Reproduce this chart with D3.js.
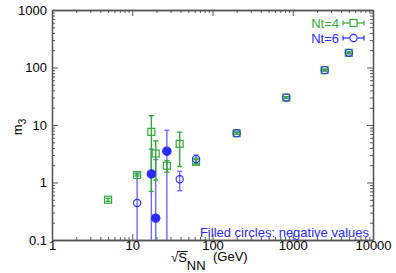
<!DOCTYPE html>
<html>
<head>
<meta charset="utf-8">
<script src="https://cdn.jsdelivr.net/npm/d3@7"></script>
<style>
  body { margin: 0; background: #fff; }
  svg { display: block; font-family: "Liberation Sans", Arial, sans-serif; }
</style>
</head>
<body>
<div id="vis"></div>
<script>
// Nt=4 : green squares
const nt4Energy = [5.0, 11.5, 17.3, 19.6, 27, 39, 62.4, 200, 830, 2500, 5000];
const nt4Value = [0.5, 1.35, 7.6, 3.2, 1.96, 4.7, 2.3, 7.2, 30, 90, 180];
const nt4Error = [0.03, 0.05, 6.9, 2.1, 0.45, 2.8, 0.2, 0.3, 1, 3, 6];

// Nt=6 : blue circles (filled = negative value, plotted as |m3|)
const nt6Energy = [11.5, 17.3, 19.6, 27, 39, 62.4, 200, 830, 2500, 5000];
const nt6Value = [0.44, 1.41, 0.24, 3.5, 1.14, 2.55, 7.2, 30, 90, 180];
const nt6Error = [1.02, 2.4, 2.26, 4.6, 0.42, 0.45, 0.3, 1, 3, 6];
const nt6Negative = [false, true, true, true, false, false, false, false, false, false];

const xTicks = [1, 10, 100, 1000, 10000];
const yTicks = [0.1, 1, 10, 100, 1000];

////////////////////////////////////////
/////////////// Options ////////////////
////////////////////////////////////////

const options = {
  width: 396,
  height: 273,
  margin: { top: 10, right: 23, bottom: 33, left: 52 },
  green: "#33aa33",
  blue: "#2a2aff",
  blueBar: "#6b6bff",
  axis: "#555",
  fontSize: 13,
};

const width = options.width - options.margin.left - options.margin.right;
const height = options.height - options.margin.top - options.margin.bottom;

const nt4 = nt4Energy.map((e, i) => ({ x: e, y: nt4Value[i], err: nt4Error[i] }));
const nt6 = nt6Energy.map((e, i) => ({
  x: e,
  y: nt6Value[i],
  err: nt6Error[i],
  neg: nt6Negative[i],
}));

////////////////////////////////////////
////////////// Scales //////////////////
////////////////////////////////////////

const xScale = d3.scaleLog().domain([1, 10000]).range([0, width]);
const yScale = d3.scaleLog().domain([0.1, 1000]).range([height, 0]);

// minor ticks 2..9 in every decade
function minors(domain) {
  const out = [];
  for (let d = domain[0]; d < domain[1]; d *= 10) {
    for (let m = 2; m <= 9; m++) out.push(+(d * m).toPrecision(3));
  }
  return out;
}

////////////////////////////////////////
////////////// DOM Setup ///////////////
////////////////////////////////////////

const svg = d3
  .select("#vis")
  .append("svg")
  .attr("width", options.width)
  .attr("height", options.height);

const g = svg
  .append("g")
  .attr("transform", `translate(${options.margin.left},${options.margin.top})`);

g.append("clipPath")
  .attr("id", "plot-clip")
  .append("rect")
  .attr("width", width)
  .attr("height", height);

function styleAxis(sel) {
  sel.attr("font-family", null).attr("font-size", options.fontSize);
  sel.select(".domain").attr("stroke", options.axis).attr("stroke-width", 1.3);
  sel.selectAll(".tick line").attr("stroke", options.axis);
  sel.selectAll(".tick text").attr("fill", "#000");
}

// bottom
g.append("g")
  .attr("transform", `translate(0,${height})`)
  .call(d3.axisBottom(xScale).tickValues(minors([1, 10000])).tickSize(-3).tickSizeOuter(0).tickFormat(""))
  .call(styleAxis);
g.append("g")
  .attr("transform", `translate(0,${height})`)
  .call(d3.axisBottom(xScale).tickValues(xTicks).tickSize(-6).tickSizeOuter(0).tickPadding(1).tickFormat(d3.format("d")))
  .call(styleAxis);
// top
g.append("g")
  .call(d3.axisTop(xScale).tickValues(minors([1, 10000])).tickSize(-3).tickSizeOuter(0).tickFormat(""))
  .call(styleAxis);
g.append("g")
  .call(d3.axisTop(xScale).tickValues(xTicks).tickSize(-6).tickSizeOuter(0).tickFormat(""))
  .call(styleAxis);
// left
g.append("g")
  .call(d3.axisLeft(yScale).tickValues(minors([0.1, 1000])).tickSize(-3).tickSizeOuter(0).tickFormat(""))
  .call(styleAxis);
g.append("g")
  .call(d3.axisLeft(yScale).tickValues(yTicks).tickSize(-6).tickSizeOuter(0).tickPadding(5).tickFormat((d) => String(d)))
  .call(styleAxis);
// right
g.append("g")
  .attr("transform", `translate(${width},0)`)
  .call(d3.axisRight(yScale).tickValues(minors([0.1, 1000])).tickSize(-3).tickSizeOuter(0).tickFormat(""))
  .call(styleAxis);
g.append("g")
  .attr("transform", `translate(${width},0)`)
  .call(d3.axisRight(yScale).tickValues(yTicks).tickSize(-6).tickSizeOuter(0).tickFormat(""))
  .call(styleAxis);

////////////////////////////////////////
////////////// Error bars //////////////
////////////////////////////////////////

const plot = g.append("g").attr("clip-path", "url(#plot-clip)");
const floor = yScale.domain()[0];

function errorBars(data, color, cls) {
  const bars = plot
    .selectAll(`g.${cls}`)
    .data(data)
    .join("g")
    .attr("class", cls)
    .attr("stroke", color)
    .attr("stroke-width", 1.4);

  bars
    .append("line")
    .attr("x1", (d) => xScale(d.x))
    .attr("x2", (d) => xScale(d.x))
    .attr("y1", (d) => (d.y - d.err > floor ? yScale(d.y - d.err) : height + 2))
    .attr("y2", (d) => yScale(d.y + d.err));

  bars
    .append("line")
    .attr("x1", (d) => xScale(d.x) - 2.5)
    .attr("x2", (d) => xScale(d.x) + 2.5)
    .attr("y1", (d) => yScale(d.y + d.err))
    .attr("y2", (d) => yScale(d.y + d.err));

  bars
    .filter((d) => d.y - d.err > floor)
    .append("line")
    .attr("x1", (d) => xScale(d.x) - 2.5)
    .attr("x2", (d) => xScale(d.x) + 2.5)
    .attr("y1", (d) => yScale(d.y - d.err))
    .attr("y2", (d) => yScale(d.y - d.err));
}

errorBars(nt6, options.blueBar, "bar6");
errorBars(nt4, options.green, "bar4");

////////////////////////////////////////
////////////// Markers /////////////////
////////////////////////////////////////

const sq = 7;

plot
  .selectAll("rect.nt4")
  .data(nt4)
  .join("rect")
  .attr("class", "nt4")
  .attr("x", (d) => xScale(d.x) - sq / 2)
  .attr("y", (d) => yScale(d.y) - sq / 2)
  .attr("width", sq)
  .attr("height", sq)
  .attr("fill", "none")
  .attr("stroke", options.green)
  .attr("stroke-width", 1.2);

plot
  .selectAll("circle.nt6")
  .data(nt6)
  .join("circle")
  .attr("class", "nt6")
  .attr("cx", (d) => xScale(d.x))
  .attr("cy", (d) => yScale(d.y))
  .attr("r", (d) => (d.neg ? 4.2 : 3.6))
  .attr("fill", (d) => (d.neg ? options.blue : "none"))
  .attr("stroke", options.blue)
  .attr("stroke-width", 1.1);

////////////////////////////////////////
////////////// Legend //////////////////
////////////////////////////////////////

const legend = [
  { label: "Nt=4", color: options.green, shape: "square" },
  { label: "Nt=6", color: options.blue, shape: "circle" },
];

const lg = svg
  .append("g")
  .selectAll("g")
  .data(legend)
  .join("g")
  .attr("transform", (d, i) => `translate(0,${23 + i * 15})`);

lg.append("text")
  .attr("x", 339)
  .attr("y", 4.5)
  .attr("text-anchor", "end")
  .attr("font-size", options.fontSize)
  .attr("fill", (d) => d.color)
  .text((d) => d.label);

lg.append("line")
  .attr("x1", 343)
  .attr("x2", 364)
  .attr("stroke", (d) => d.color)
  .attr("stroke-width", 1.2);

[343, 364].forEach((cx) =>
  lg.append("line")
    .attr("x1", cx)
    .attr("x2", cx)
    .attr("y1", -2.5)
    .attr("y2", 2.5)
    .attr("stroke", (d) => d.color)
    .attr("stroke-width", 1.2)
);

lg.filter((d) => d.shape === "square")
  .append("rect")
  .attr("x", 353.5 - sq / 2)
  .attr("y", -sq / 2)
  .attr("width", sq)
  .attr("height", sq)
  .attr("fill", "#fff")
  .attr("stroke", (d) => d.color)
  .attr("stroke-width", 1.2);

lg.filter((d) => d.shape === "circle")
  .append("circle")
  .attr("cx", 353.5)
  .attr("r", 3.6)
  .attr("fill", "#fff")
  .attr("stroke", (d) => d.color)
  .attr("stroke-width", 1.1);

svg.append("text")
  .attr("x", 369)
  .attr("y", 236.5)
  .attr("text-anchor", "end")
  .attr("font-size", options.fontSize)
  .attr("fill", options.blue)
  .text("Filled circles: negative values");

////////////////////////////////////////
////////////// Axis titles /////////////
////////////////////////////////////////

const yTitle = svg
  .append("text")
  .attr("transform", "translate(22,127) rotate(-90)")
  .attr("text-anchor", "middle")
  .attr("font-size", options.fontSize);
yTitle.append("tspan").text("m");
yTitle.append("tspan").attr("font-size", 10).attr("dy", 4).text("3");

const xTitle = svg
  .append("text")
  .attr("x", 171)
  .attr("y", 262)
  .attr("font-size", options.fontSize);
xTitle.append("tspan").text("\u221A");
xTitle.append("tspan").text("S");
xTitle.append("tspan").attr("dy", 8).text("NN");

svg.append("text")
  .attr("x", 213)
  .attr("y", 261)
  .attr("font-size", options.fontSize)
  .text("(GeV)");

// overline of the square root across the S
const node = xTitle.node();
const sStart = node.getStartPositionOfChar(1).x;
const sEnd = node.getEndPositionOfChar(1).x;
svg.append("line")
  .attr("x1", sStart - 1)
  .attr("x2", sEnd + 1)
  .attr("y1", 251.5)
  .attr("y2", 251.5)
  .attr("stroke", "#000")
  .attr("stroke-width", 0.9);
</script>
</body>
</html>
